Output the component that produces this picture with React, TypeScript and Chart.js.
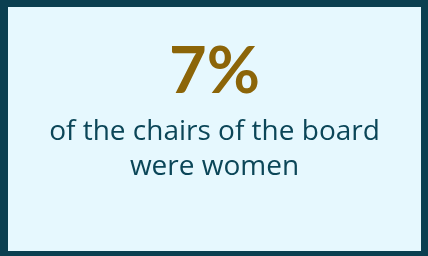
import React, { useEffect, useRef } from "react";
import { Chart, registerables } from "chart.js";

Chart.register(...registerables);

const STAT_VALUES = [7];
const STAT_UNITS = ["%"];
const CAPTION_LINES = ["of the chairs of the board", "were women"];

export default function App() {
  const ref = useRef<HTMLCanvasElement | null>(null);
  useEffect(() => {
    if (!ref.current) return;
    const chart = new Chart(ref.current, {
      type: "bar",
      data: { labels: [], datasets: [] },
      options: {
        animation: false,
        responsive: false,
        maintainAspectRatio: false,
        events: [],
        layout: { padding: 0 },
        scales: { x: { display: false }, y: { display: false } },
        plugins: {
          legend: { display: false },
          tooltip: { enabled: false },
          title: {
            display: true,
            text: `${STAT_VALUES[0]}${STAT_UNITS[0]}`,
            color: "#8c6508",
            font: { family: "Lato", size: 65, weight: "bold", lineHeight: 1.0 },
            padding: { top: 33, bottom: 10 },
          },
          subtitle: {
            display: true,
            text: CAPTION_LINES,
            color: "#0b4658",
            font: { family: "'Open Sans'", size: 28, weight: "normal", lineHeight: 1.25 },
            padding: 0,
          },
        },
      },
    });
    return () => chart.destroy();
  }, []);
  return (
    <div
      style={{
        position: "fixed",
        left: 0,
        top: 0,
        width: 428,
        height: 256,
        boxSizing: "border-box",
        borderStyle: "solid",
        borderColor: "#0b3f50",
        borderWidth: "7px 7px 5px 8px",
        background: "#e6f8fe",
      }}
    >
      <canvas ref={ref} width={413} height={244} style={{ display: "block" }} />
    </div>
  );
}
